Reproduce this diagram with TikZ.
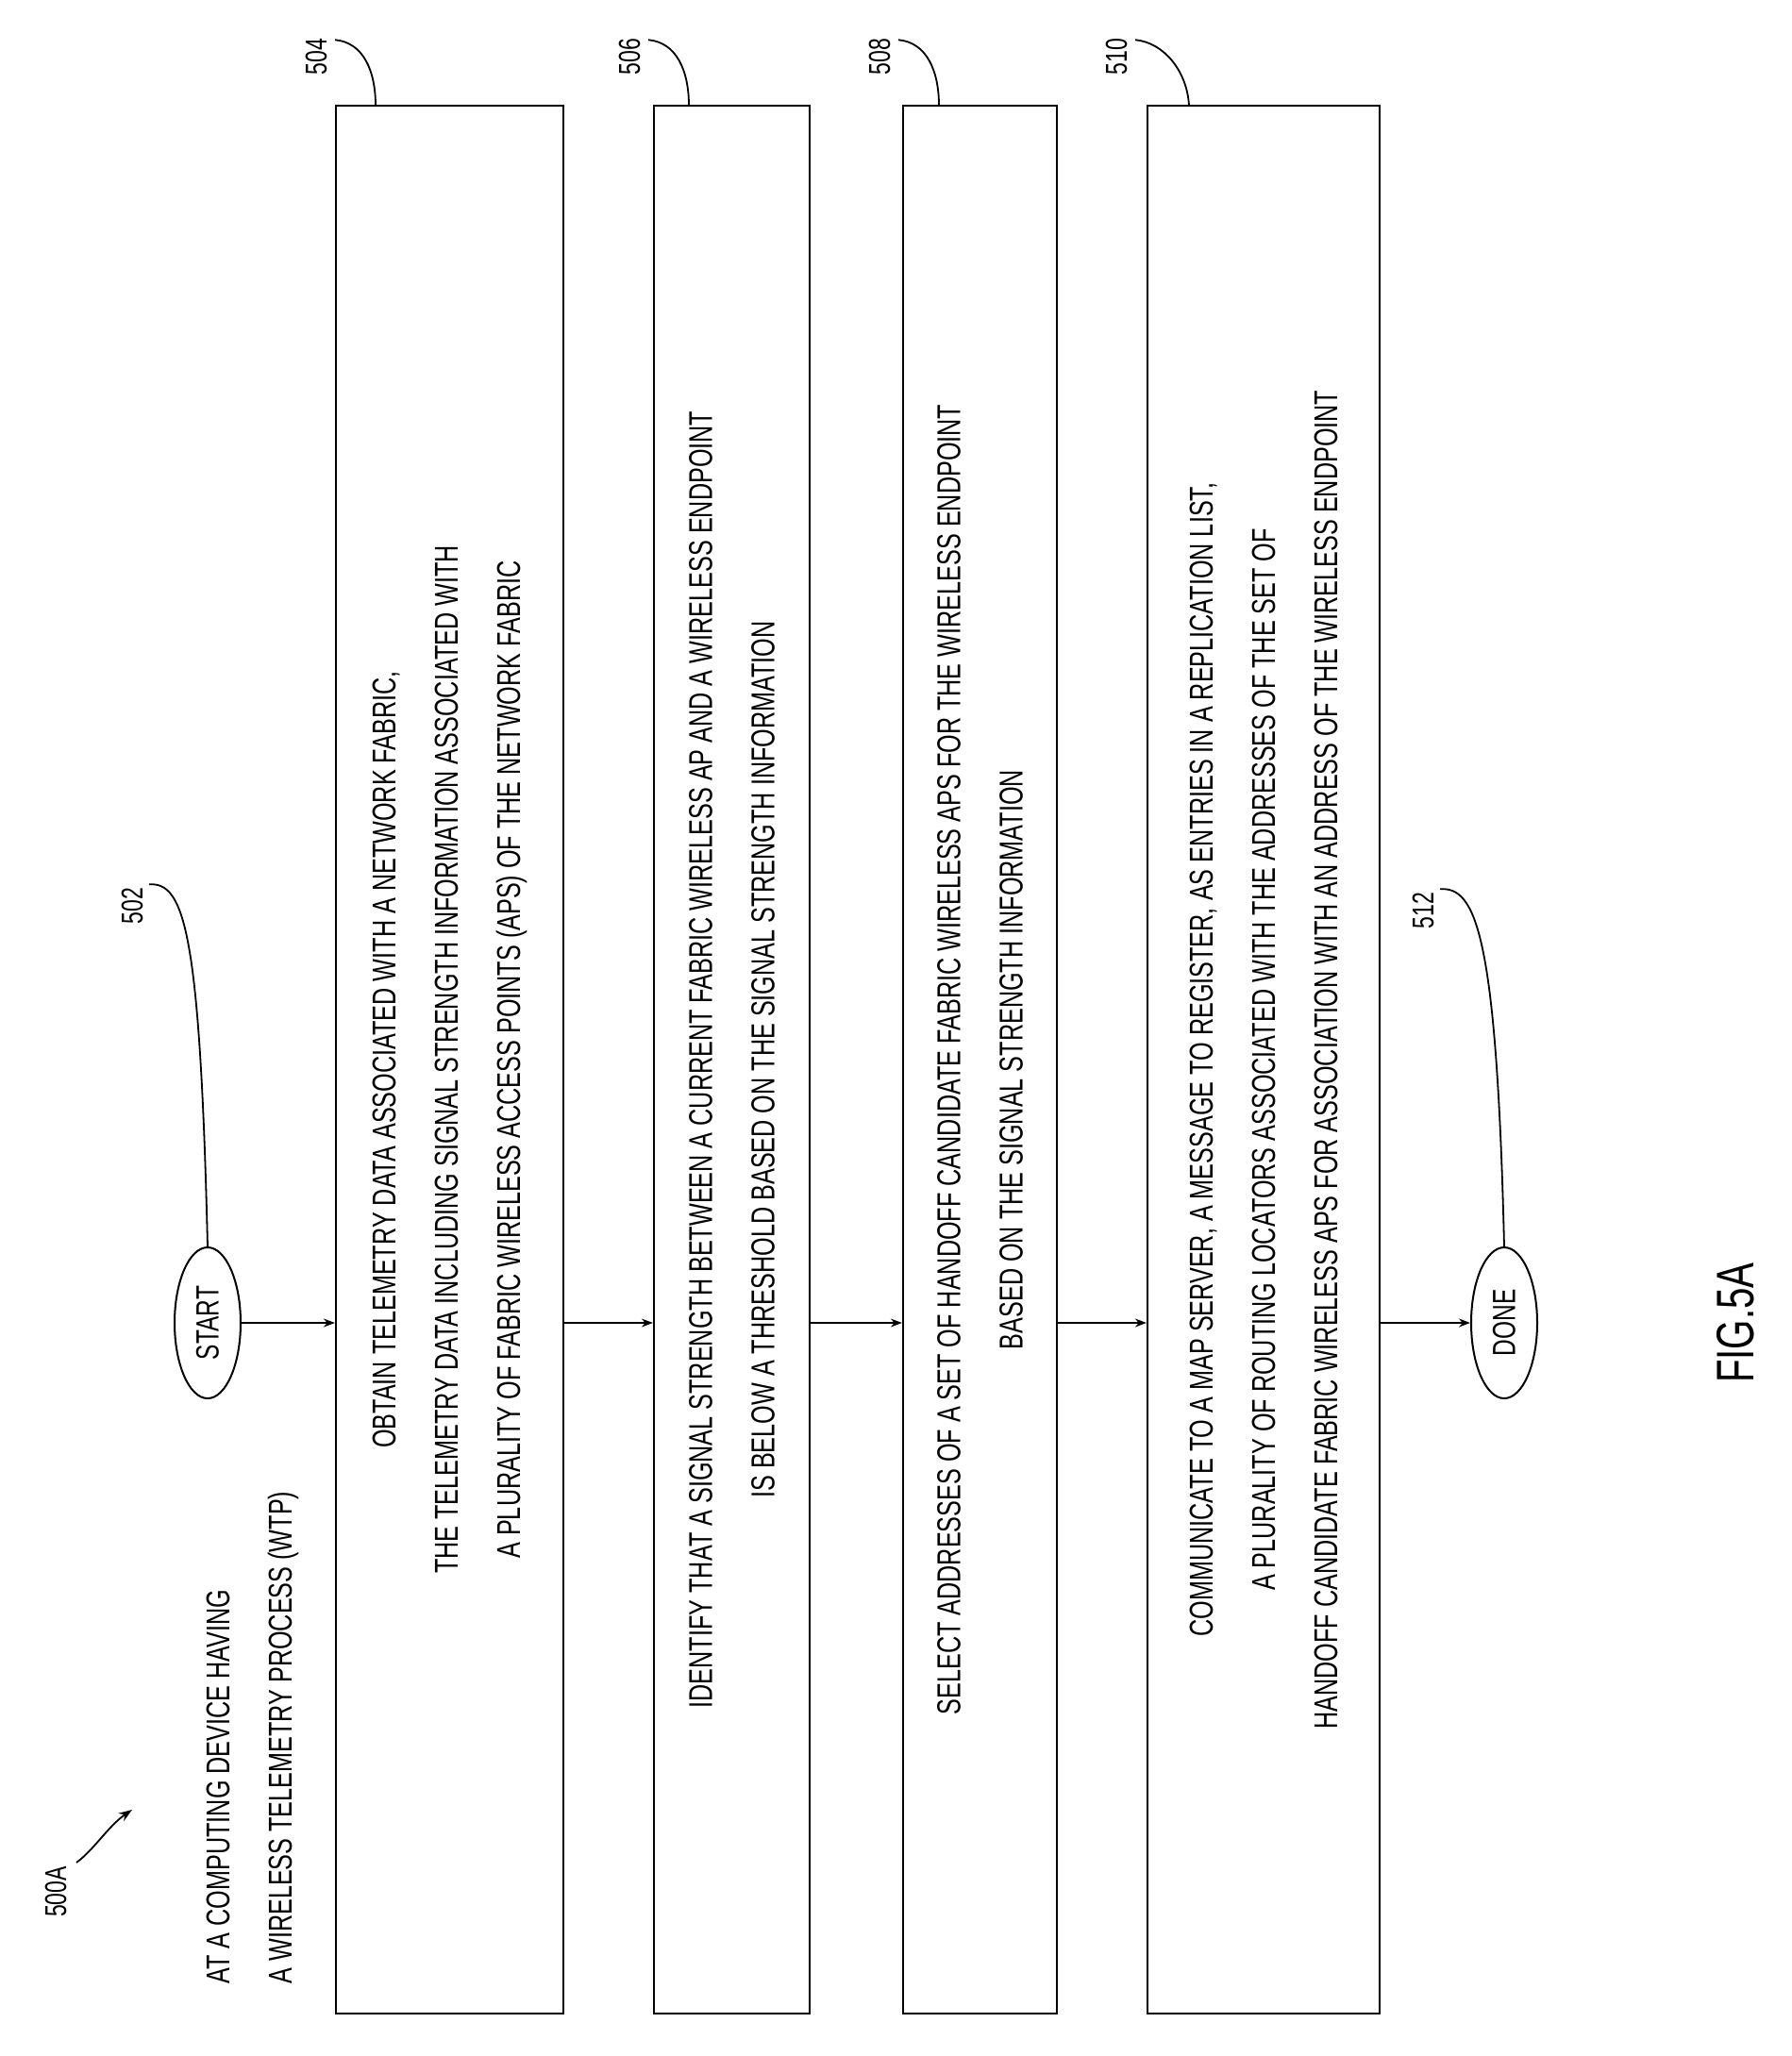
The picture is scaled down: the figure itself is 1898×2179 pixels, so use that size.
\documentclass[tikz,border=0pt]{standalone}
\usepackage{fontspec}
\setmainfont{Liberation Sans}[FakeStretch=0.72]
\usetikzlibrary{arrows.meta,shapes.geometric}
\begin{document}
\begin{tikzpicture}[x=1pt,y=-1pt,
  box/.style={draw,line width=2.2pt,inner sep=0pt},
  txt/.style={rotate=90,align=center,font=\fontsize{35}{66}\selectfont},
  lbl/.style={rotate=90,font=\fontsize{32}{40}\selectfont},
  oval/.style={draw,line width=2pt,ellipse,minimum width=160pt,minimum height=70pt,rotate=90,font=\fontsize{34}{40}\selectfont},
  arr/.style={line width=1.8pt,-{Stealth[length=12pt,width=9pt]}},
  lead/.style={line width=1.8pt}]
\useasboundingbox (0,0) rectangle (1898,2179);
\node[box,minimum width=241pt,minimum height=2022pt] (b504) at (476.5,1123) {};
\node[box,minimum width=165pt,minimum height=2022pt] (b506) at (775.5,1123) {};
\node[box,minimum width=163pt,minimum height=2022pt] (b508) at (1038.5,1123) {};
\node[box,minimum width=246pt,minimum height=2022pt] (b510) at (1339,1123) {};
\node[txt] (t504) at (b504) {OBTAIN TELEMETRY DATA ASSOCIATED WITH A NETWORK FABRIC,\\THE TELEMETRY DATA INCLUDING SIGNAL STRENGTH INFORMATION ASSOCIATED WITH\\A PLURALITY OF FABRIC WIRELESS ACCESS POINTS (APS) OF THE NETWORK FABRIC};
\node[txt] (t506) at (b506) {IDENTIFY THAT A SIGNAL STRENGTH BETWEEN A CURRENT FABRIC WIRELESS AP AND A WIRELESS ENDPOINT\\IS BELOW A THRESHOLD BASED ON THE SIGNAL STRENGTH INFORMATION};
\node[txt] (t508) at (b508) {SELECT ADDRESSES OF A SET OF HANDOFF CANDIDATE FABRIC WIRELESS APS FOR THE WIRELESS ENDPOINT\\BASED ON THE SIGNAL STRENGTH INFORMATION};
\node[txt] (t510) at (b510) {COMMUNICATE TO A MAP SERVER, A MESSAGE TO REGISTER, AS ENTRIES IN A REPLICATION LIST,\\A PLURALITY OF ROUTING LOCATORS ASSOCIATED WITH THE ADDRESSES OF THE SET OF\\HANDOFF CANDIDATE FABRIC WIRELESS APS FOR ASSOCIATION WITH AN ADDRESS OF THE WIRELESS ENDPOINT};
\node[txt,align=left,anchor=south west] (head) at (320,2106) {AT A COMPUTING DEVICE HAVING\\A WIRELESS TELEMETRY PROCESS (WTP)};
\node[oval] (start) at (220,1402) {START};
\node[oval] (done) at (1594,1402) {DONE};
\draw[arr] (start) -- (b504.west |- start);
\draw[arr] (b504.east |- start) -- (b506.west |- start);
\draw[arr] (b506.east |- start) -- (b508.west |- start);
\draw[arr] (b508.east |- start) -- (b510.west |- start);
\draw[arr] (b510.east |- start) -- (done);
\node[lbl] (l502) at (140,960) {502};
\node[lbl] (l504) at (335,60) {504};
\node[lbl] (l506) at (667,60) {506};
\node[lbl] (l508) at (932,60) {508};
\node[lbl] (l510) at (1183,60) {510};
\node[lbl] (l512) at (1508,965) {512};
\node[lbl] (l500) at (59,2005) {500A};
\node[rotate=90,font=\fontsize{56}{60}\selectfont] (fig) at (1839,1402) {FIG.5A};
\draw[lead] (l502.east) ++(18,0) .. controls (195,935) and (212,985) .. (start.east);
\draw[lead] (l504.east) ++(20,5) .. controls (385,45) and (398,75) .. (398,112);
\draw[lead] (l506.east) ++(20,5) .. controls (717,45) and (730,75) .. (730,112);
\draw[lead] (l508.east) ++(20,5) .. controls (982,45) and (995,75) .. (995,112);
\draw[lead] (l510.east) ++(20,5) .. controls (1233,45) and (1258,75) .. (1260,112);
\draw[lead] (l512.east) ++(18,0) .. controls (1563,940) and (1586,985) .. (done.east);
\coordinate (a500) at (140,1918);
\draw[line width=1.8pt,-{Stealth[length=14pt,width=10pt]}] (81,1974) .. controls (100,1960) and (115,1935) .. (a500);
\end{tikzpicture}
\end{document}
